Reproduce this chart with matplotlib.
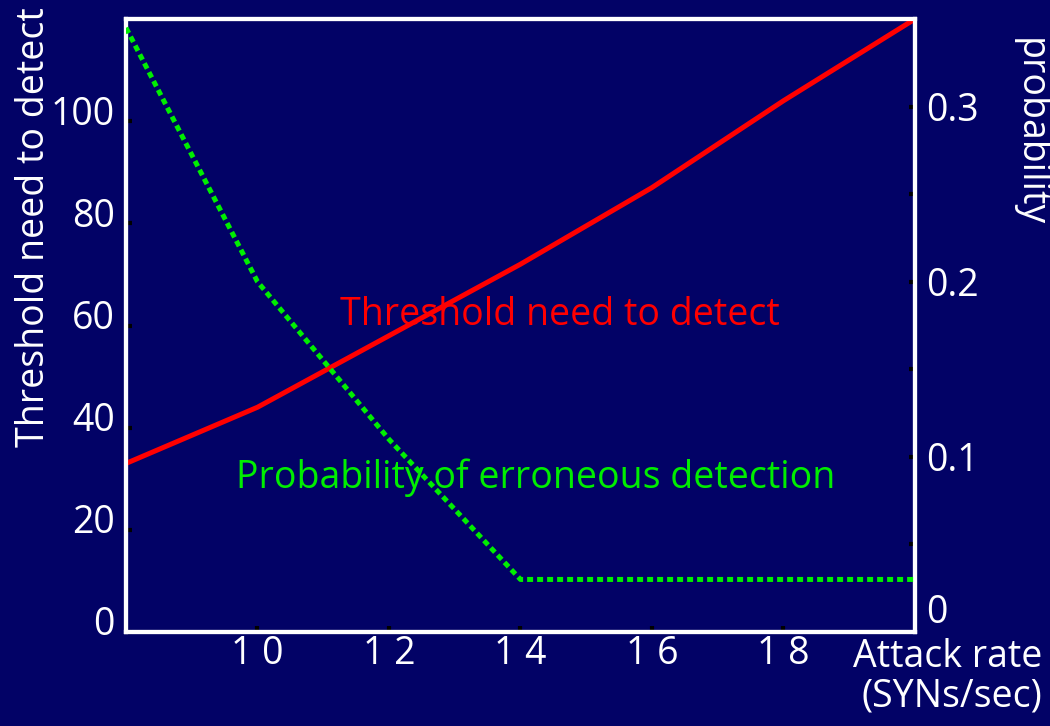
import matplotlib.pyplot as plt
import matplotlib.transforms as mtransforms

# attack rate (SYNs/sec)
attack_rate = [8, 10, 12, 14, 16, 18, 20]
# threshold need to detect (left axis)
threshold = [33, 44, 58, 72, 87, 104, 120]
# probability of erroneous detection (right axis)
probability = [0.345, 0.20, 0.11, 0.03, 0.03, 0.03, 0.03]

x_ticks = [10, 12, 14, 16, 18]
x_tick_labels = ["1 0", "1 2", "1 4", "1 6", "1 8"]
left_ticks = [0, 20, 40, 60, 80, 100]

bg = "#020266"
fs = 27
plt.rcParams['font.family'] = ['Open Sans', 'DejaVu Sans']

fig = plt.figure(figsize=(10.5, 7.26), dpi=100, facecolor=bg)
ax = fig.add_axes([0.12, 0.1295, 0.7514, 0.8443])
ax.set_facecolor(bg)

ax.plot(attack_rate, threshold, color="#ff0000", linewidth=3.6, solid_capstyle="butt", zorder=3)
ax.set_xlim(8, 20)
ax.set_ylim(0, 120)

ax2 = ax.twinx()
ax2.plot(attack_rate, probability, color="#00ee00", linewidth=3.6,
         linestyle=(0, (1.2, 0.8)), zorder=3)
ax2.set_ylim(0, 0.35)

# kenarliklar
for a in (ax, ax2):
    for s in a.spines.values():
        s.set_color("white")
        s.set_linewidth(3)

ax.set_xticks(x_ticks)
ax.set_xticklabels(x_tick_labels)
ax.set_yticks(left_ticks)
ax.tick_params(axis="both", direction="in", length=4, width=3, color="black",
               labelcolor="white", labelsize=fs, pad=8)
ax.tick_params(axis="x", pad=2)

ax2.set_yticks([0.05, 0.1, 0.15, 0.2, 0.25, 0.3])
ax2.set_yticklabels(["", "0.1", "", "0.2", "", "0.3"])
ax2.tick_params(axis="y", direction="in", length=4, width=3, color="black",
                labelcolor="white", labelsize=fs, pad=8)
ticks2 = ax2.yaxis.get_major_ticks()
ticks2[0].tick2line.set_color("#00ee00")
ticks2[1].tick2line.set_color("#00ee00")

# sol etiketler biraz yukarida
shift_up = mtransforms.ScaledTranslation(0, 8 / 72, fig.dpi_scale_trans)
for lab in ax.get_yticklabels():
    lab.set_transform(lab.get_transform() + shift_up)

# sag alt kosedeki 0
fig.text(0.882, 0.155, "0", color="white", fontsize=fs, ha="left", va="center")

ax.set_ylabel("Threshold need to detect", color="white", fontsize=fs)
ax.yaxis.set_label_coords(-0.093, 0.66)
ax2.set_ylabel("probability", color="white", fontsize=fs, rotation=270)
ax2.yaxis.set_label_coords(1.17, 0.815)

fig.text(0.993, 0.068, "Attack rate\n(SYNs/sec)", color="white", fontsize=fs,
         ha="right", va="center", linespacing=1.05)

ax.text(0.533, 0.566, "Threshold need to detect", color="#ff0000", fontsize=fs,
        ha="center", va="center", transform=fig.transFigure)
ax.text(0.51, 0.342, "Probability of erroneous detection", color="#00ee00", fontsize=fs,
        ha="center", va="center", transform=fig.transFigure)

fig.savefig("out.png", dpi=100, facecolor=bg)
